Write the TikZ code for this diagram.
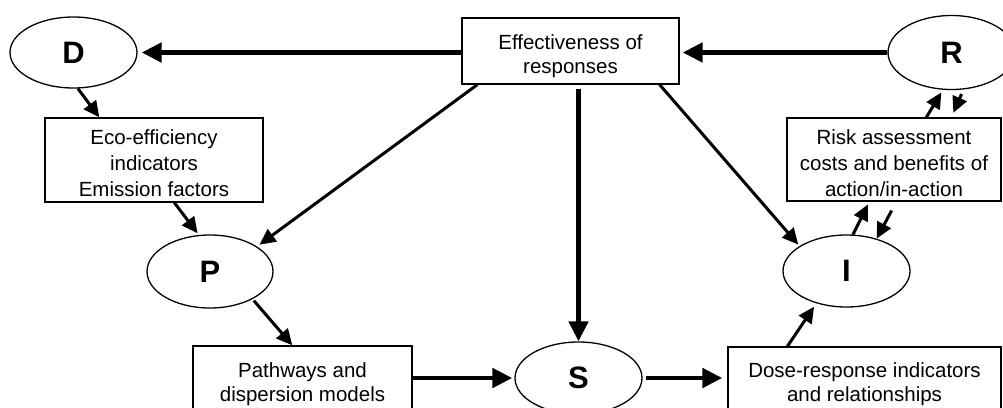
\documentclass[tikz,border=0pt]{standalone}
\usepackage{fontspec}
\setmainfont{Liberation Sans}
\usetikzlibrary{arrows.meta,calc,shapes.geometric}

\tikzset{
  stage/.style={ellipse, draw, line width=1.3pt, inner sep=0pt,
    font=\fontsize{31}{36}\selectfont\bfseries},
  infobox/.style={rectangle, draw, line width=1.3pt, inner sep=0pt, align=center,
    font=\fontsize{20.5}{24}\selectfont},
  tallbox/.style={infobox, font=\fontsize{20.5}{26}\selectfont},
  heavy/.style={line width=4.8pt, -{Triangle[length=20pt,width=19pt]}},
  light/.style={line width=3pt, -{Triangle[length=16pt,width=15pt]}},
}

\begin{document}
\begin{tikzpicture}[x=1pt, y=-1pt]
  \path[use as bounding box] (0,0) rectangle (1003,407);
  \fill[white] (0,0) rectangle (1003,407);
  \clip (0,0) rectangle (1003,407);

  % DPSIR stages
  \node[stage, minimum width=127pt, minimum height=71pt] (D) at (73.5,52.5) {D};
  \node[stage, minimum width=126pt, minimum height=73pt] (P) at (210,271.5) {P};
  \node[stage, minimum width=127pt, minimum height=72pt] (S) at (578.5,378) {S};
  \node[stage, minimum width=127pt, minimum height=72pt] (I) at (846.5,271) {I};
  \node[stage, minimum width=127pt, minimum height=74pt] (R) at (951.5,52.5) {R};

  % information boxes
  \node[infobox, minimum width=217pt, minimum height=66pt] (eff) at (570.5,51)
    {\rule{0pt}{26pt}Effectiveness of\\responses};
  \node[tallbox, minimum width=218pt, minimum height=84pt] (eco) at (154,160)
    {\rule{0pt}{22pt}Eco-efficiency\\indicators\\Emission factors};
  \node[tallbox, minimum width=214pt, minimum height=83pt] (risk) at (894,159.5)
    {\rule{0pt}{22.5pt}Risk assessment\\costs and benefits of\\action/in-action};
  \node[infobox, minimum width=219pt, minimum height=76pt] (path) at (302.5,384)
    {Pathways and\\dispersion models};
  \node[infobox, minimum width=273pt, minimum height=74pt] (dose) at (864.5,384)
    {Dose-response indicators\\and relationships};

  % main flows
  \draw[heavy, shorten >=4pt] (eff.west |- D.east) -- (D.east);
  \draw[heavy, shorten >=3pt] (R.west) -- (R.west -| eff.east);
  \draw[heavy, shorten <=4pt] (eff.south -| S.north) -- (S.north);
  \draw[heavy, shorten >=2pt] (path.east |- S.west) -- (S.west);
  \draw[heavy, shorten <=3pt, shorten >=5pt] (S.east) -- (S.east -| dose.west);

  % responses feeding back
  \draw[light, shorten >=3pt] ($(eff.south west)+(16,0)$) -- (P.28);
  \draw[light, shorten >=2pt] ($(eff.south east)+(-20,0)$) -- (I.152);

  % indicator links
  \draw[light] (D.-83) -- ($(eco.north west)+(55,0)$);
  \draw[light, shorten >=2pt] ($(eco.south west)+(130,0)$) -- (P.107);
  \draw[light, shorten <=2pt] (P.-33) -- ($(path.north west)+(100,0)$);
  \draw[light, shorten >=4pt] ($(dose.north west)+(60,0)$) -- (I.227);
  \draw[light, shorten >=3pt] (I.80) -- ($(risk.south west)+(83,0)$);
  \draw[light, shorten <=10pt] ($(risk.south west)+(110,0)$) -- (I.47);
  \draw[light, shorten >=3pt] ($(risk.north west)+(140,0)$) -- (R.257);
  \draw[light, shorten <=5pt, shorten >=5pt] (R.-72) -- ($(risk.north west)+(165,0)$);
\end{tikzpicture}
\end{document}
